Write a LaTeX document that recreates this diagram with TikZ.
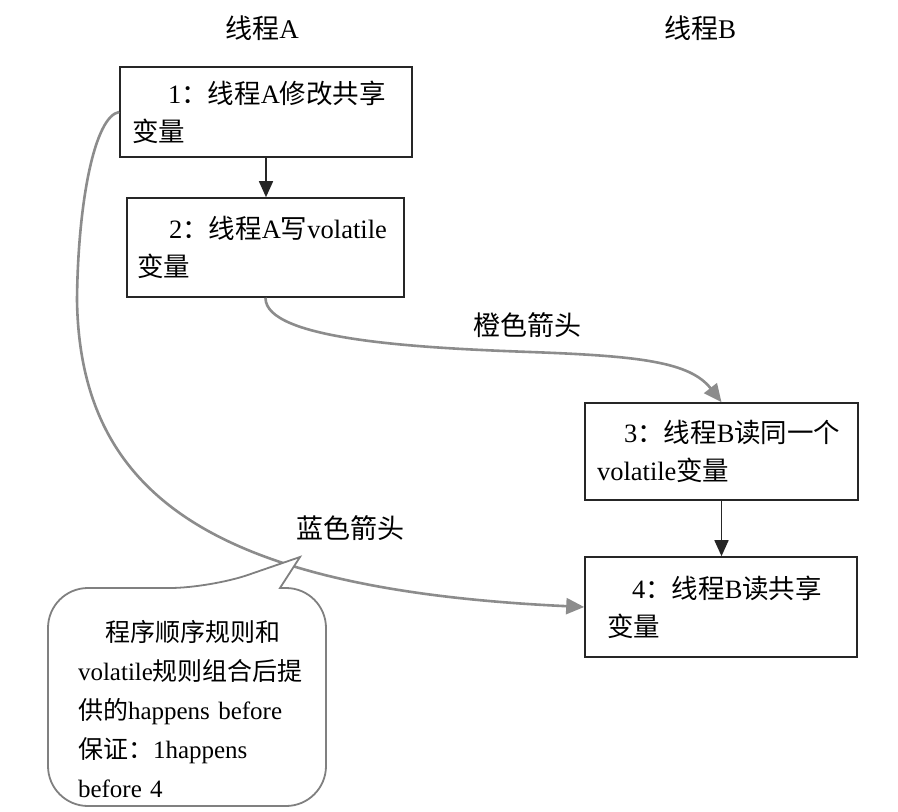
\documentclass[tikz,border=0pt]{standalone}
\usepackage{fontspec}
\setmainfont{Liberation Serif}
\newfontfamily\zhfont{Noto Sans CJK SC}
\newcommand{\zh}[1]{{\zhfont #1}}
\usetikzlibrary{arrows.meta}

\begin{document}
\begin{tikzpicture}[
  x=0.5pt, y=-0.5pt,
  stepbox/.style={rectangle, draw=black!85, line width=0.8pt, fill=white,
              align=left, inner xsep=6pt, inner ysep=0pt,
              font=\fontsize{13.25}{19}\selectfont},
  lbl/.style={font=\fontsize{13.5}{16}\selectfont},
  notetext/.style={align=left, inner sep=0pt, text width=112pt,
              font=\fontsize{12.5}{19.5}\selectfont},
  bubble/.style={draw=black!50, line width=0.9pt, fill=white},
  arr/.style={-{Triangle[length=8pt,width=7pt]}, line width=0.8pt, black!85},
  flow/.style={-{Triangle[length=9pt,width=8pt]}, line width=1.3pt, black!45}
]
  \fill[white] (0,0) rectangle (898,812);
  \useasboundingbox (0,0) rectangle (898,812);

  % thread headers
  \node[lbl] (ta) at (262,28) {\zh{线程}A};
  \node[lbl] (tb) at (700,28) {\zh{线程}B};

  % steps
  \node[stepbox, text width=134pt, minimum height=45pt] (s1) at (266,112)
    {\hspace*{18pt}1\zh{：线程}A\zh{修改共享}\\\zh{变量}};
  \node[stepbox, inner xsep=5pt, text width=128.5pt, minimum height=49.5pt] (s2) at (265.5,247.5)
    {\hspace*{16pt}2\zh{：线程}A\zh{写}volatile\\\zh{变量}};
  \node[stepbox, text width=124.5pt, minimum height=48.5pt] (s3) at (721.5,451.5)
    {\hspace*{13.5pt}3\zh{：线程}B\zh{读同一个}\\volatile\zh{变量}};
  \node[stepbox, text width=124pt, minimum height=50pt] (s4) at (721,607)
    {\hspace*{17.5pt}4\zh{：线程}B\zh{读共享}\\\hspace*{5pt}\zh{变量}};

  \draw[arr] (s1.south) -- (s1.south |- s2.north);
  \draw[arr] (s3.south) -- (s3.south |- s4.north);

  % orange arrow
  \draw[flow] (s2.south) .. controls (265,340) and (420,348) .. (530,352)
    .. controls (640,356) and (690,362) .. (s3.north);
  \node[lbl] (lo) at (527,325) {\zh{橙色箭头}};

  % blue arrow
  \draw[flow] (s1.west) .. controls (95,116) and (78,200) .. (77,300)
    .. controls (80,500) and (220,590) .. (s4.west);
  \node[lbl] (lb) at (350,528) {\zh{蓝色箭头}};

  % callout
  \coordinate (tip) at (300,557);
  \draw[bubble, rounded corners=20pt] (280,588) -- (326,588) -- (326,806)
    -- (48,806) -- (48,588) -- (210,588) [sharp corners] -- (tip) -- cycle;
  \node[notetext] (nt) at (190,709)
    {\hspace*{13.5pt}\zh{程序顺序规则和}\\volatile\zh{规则组合后提}\\\zh{供的}happens before\\\zh{保证：}1happens\\before 4};
\end{tikzpicture}
\end{document}
